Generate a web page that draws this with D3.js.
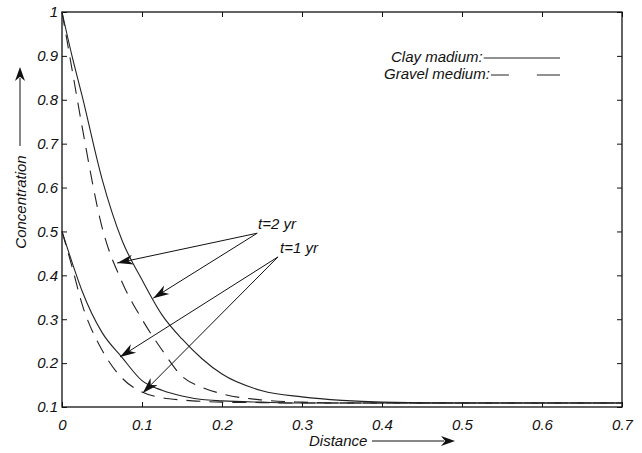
<!DOCTYPE html>
<html>
<head>
<meta charset="utf-8">
<script src="https://cdn.jsdelivr.net/npm/d3@7"></script>
<style>
  body { margin: 0; background: #fff; }
  text { font-family: "Liberation Sans", Arial, sans-serif; font-style: italic; fill: #111; }
</style>
</head>
<body>
<div class="graph"></div>
<script>
  // values
  const distance = [0, 0.0125, 0.025, 0.05, 0.075, 0.1, 0.125, 0.15, 0.175, 0.2, 0.25, 0.3, 0.35, 0.4, 0.5, 0.6, 0.7];
  const clayT2   = [1, 0.90, 0.81, 0.62, 0.48, 0.39, 0.31, 0.255, 0.21, 0.175, 0.137, 0.123, 0.115, 0.111, 0.109, 0.109, 0.109];
  const gravelT2 = [1, 0.87, 0.74, 0.51, 0.385, 0.30, 0.23, 0.17, 0.145, 0.13, 0.116, 0.111, 0.109, 0.109, 0.109, 0.109, 0.109];
  const clayT1   = [0.5, 0.43, 0.365, 0.27, 0.213, 0.16, 0.138, 0.125, 0.117, 0.114, 0.111, 0.109, 0.109, 0.109, 0.109, 0.109, 0.109];
  const gravelT1 = [0.5, 0.42, 0.335, 0.23, 0.166, 0.134, 0.121, 0.116, 0.113, 0.111, 0.110, 0.109, 0.109, 0.109, 0.109, 0.109, 0.109];

  const xTicks = [0, 0.1, 0.2, 0.3, 0.4, 0.5, 0.6, 0.7];
  const yTicks = [0.1, 0.2, 0.3, 0.4, 0.5, 0.6, 0.7, 0.8, 0.9, 1];

  const legendNames = ['Clay madium:', 'Gravel medium:'];

  // arrows: label, where the arrows start, where they point (data units)
  const notes = [
    { text: 't=2 yr', at: [0.245, 0.506], from: [0.244, 0.496], to: [[0.069, 0.428], [0.114, 0.348]] },
    { text: 't=1 yr', at: [0.2725, 0.452], from: [0.27, 0.442], to: [[0.0725, 0.214], [0.101, 0.132]] }
  ];

  const margin = { top: 12, left: 62, bottom: 46, right: 20 };
  const width = 642 - margin.left - margin.right;
  const height = 453 - margin.top - margin.bottom;
  const dash = '14,9';

  const xScale = d3.scaleLinear().domain([0, 0.7]).range([0, width]);
  const yScale = d3.scaleLinear().domain([0.1, 1]).range([height, 0]);

  const root = d3.select('.graph')
    .append('svg')
    .attr('width', 642)
    .attr('height', 453);

  const svg = root.append('g')
    .attr('transform', `translate(${margin.left},${margin.top})`);

  // axes, ticks pointing inwards on all four sides
  const fmt = d => String(d);
  svg.append('g')
    .attr('transform', `translate(0,${height})`)
    .call(d3.axisBottom(xScale).tickValues(xTicks).tickFormat(fmt).tickSize(-5).tickPadding(12));
  svg.append('g')
    .call(d3.axisLeft(yScale).tickValues(yTicks).tickFormat(fmt).tickSize(-5).tickPadding(4));
  svg.append('g')
    .call(d3.axisTop(xScale).tickValues(xTicks).tickFormat('').tickSize(-5));
  svg.append('g')
    .attr('transform', `translate(${width},0)`)
    .call(d3.axisRight(yScale).tickValues(yTicks).tickFormat('').tickSize(-5));

  svg.selectAll('.tick text').attr('font-size', 15).attr('fill', '#111')
    .style('font-family', '"Liberation Sans", Arial, sans-serif').style('font-style', 'italic');
  svg.selectAll('.domain').remove();
  svg.selectAll('.tick line').attr('stroke', '#111');

  svg.append('rect')
    .attr('width', width)
    .attr('height', height)
    .attr('fill', 'none')
    .attr('stroke', '#111')
    .attr('stroke-width', 1.3);

  // curves
  const line = d3.line()
    .x((d, i) => xScale(distance[i]))
    .y(d => yScale(d))
    .curve(d3.curveMonotoneX);

  const series = [
    { values: clayT2, dashed: false },
    { values: gravelT2, dashed: true },
    { values: clayT1, dashed: false },
    { values: gravelT1, dashed: true }
  ];

  svg.selectAll('.curve')
    .data(series)
    .enter()
    .append('path')
    .attr('class', 'curve')
    .attr('d', d => line(d.values))
    .attr('fill', 'none')
    .attr('stroke', '#222')
    .attr('stroke-width', 1.1)
    .attr('stroke-dasharray', d => d.dashed ? dash : null);

  // notched arrow head, tip at (tx,ty), coming from (fx,fy)
  function head(fx, fy, tx, ty, len = 16, half = 5) {
    const a = Math.atan2(ty - fy, tx - fx);
    const c = Math.cos(a), s = Math.sin(a);
    const bx = tx - len * c, by = ty - len * s;
    const nx = tx - len * 0.7 * c, ny = ty - len * 0.7 * s;
    return `M${tx},${ty}L${bx - half * s},${by + half * c}L${nx},${ny}L${bx + half * s},${by - half * c}Z`;
  }

  notes.forEach(n => {
    svg.append('text')
      .attr('x', xScale(n.at[0]))
      .attr('y', yScale(n.at[1]))
      .attr('font-size', 15)
      .text(n.text);

    n.to.forEach(t => {
      const fx = xScale(n.from[0]), fy = yScale(n.from[1]);
      const tx = xScale(t[0]), ty = yScale(t[1]);
      svg.append('line')
        .attr('x1', fx).attr('y1', fy)
        .attr('x2', tx).attr('y2', ty)
        .attr('stroke', '#111');
      svg.append('path')
        .attr('d', head(fx, fy, tx, ty))
        .attr('fill', '#111');
    });
  });

  // legend
  const legend = root.append('g');
  legendNames.forEach((name, i) => {
    const y = 62 + i * 17;
    const x0 = i === 0 ? 391 : 384;
    const label = legend.append('text')
      .attr('x', x0)
      .attr('y', y)
      .attr('font-size', 15)
      .text(name);
    const end = label.node().getComputedTextLength() + x0;
    legend.append('line')
      .attr('x1', end + 1).attr('x2', 560)
      .attr('y1', y - 4).attr('y2', y - 4)
      .attr('stroke', '#222')
      .attr('stroke-dasharray', i === 1 ? '18,28,30,30' : null);
  });

  // axis titles with their arrows
  root.append('text')
    .attr('transform', 'translate(26,202) rotate(-90)')
    .attr('text-anchor', 'middle')
    .attr('font-size', 15)
    .text('Concentration');
  root.append('line')
    .attr('x1', 20).attr('x2', 20)
    .attr('y1', 146).attr('y2', 78)
    .attr('stroke', '#111');
  root.append('path').attr('d', head(20, 146, 20, 67, 14, 5)).attr('fill', '#111');

  root.append('text')
    .attr('x', 309)
    .attr('y', 446)
    .attr('font-size', 15)
    .text('Distance');
  root.append('line')
    .attr('x1', 372).attr('x2', 444)
    .attr('y1', 441).attr('y2', 441)
    .attr('stroke', '#111');
  root.append('path').attr('d', head(372, 441, 455, 441, 14, 5)).attr('fill', '#111');
</script>
</body>
</html>
